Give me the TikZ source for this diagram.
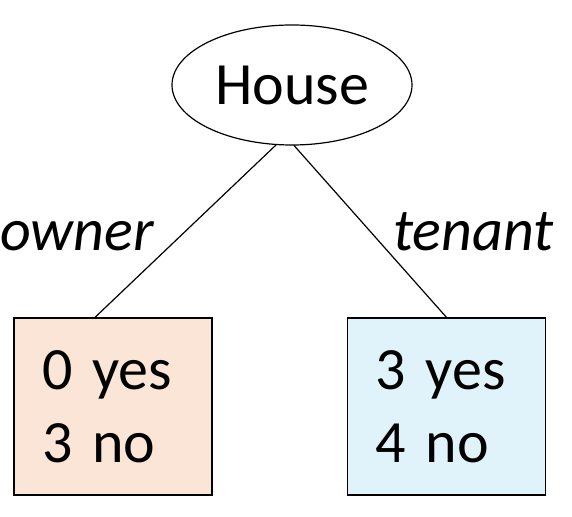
\documentclass[tikz,border=0pt]{standalone}
\usepackage{fontspec}
\setmainfont{Carlito}
\usetikzlibrary{shapes.geometric}
\begin{document}
\begin{tikzpicture}[x=1pt,y=1pt,line cap=round,
				root/.style={ellipse,draw,line width=1.2pt,minimum width=240pt,minimum height=120pt,inner sep=0pt},
				leafbox/.style={rectangle,draw,line width=1.2pt,minimum width=198pt,minimum height=177pt,
					text width=142pt,inner xsep=28pt,inner ysep=0pt,align=left},
				branch/.style={inner sep=0pt,anchor=base west,font=\itshape}]
				\useasboundingbox (0,0) rectangle (572,516);
				\fontsize{60}{73}\selectfont
				\node[root] (house) at (292,431) {House};
				\node[leafbox,fill={rgb,255:red,251;green,229;blue,214}] (ownerbox) at (113,109.5) {0 yes\\3 no};
				\node[leafbox,fill={rgb,255:red,224;green,243;blue,251}] (tenantbox) at (446.5,109.5) {3 yes\\4 no};
				%\draw (house) -- (ownerbox);
				\draw[line width=1.2pt] (house.-105) -- ([xshift=-18pt]ownerbox.north);
				\draw[line width=1.2pt] (house.-88) -- (tenantbox.north);
				\node[branch] (owner) at (0,265) {owner};
				\node[branch] (tenant) at (393,265) {tenant};
			\end{tikzpicture}
\end{document}
